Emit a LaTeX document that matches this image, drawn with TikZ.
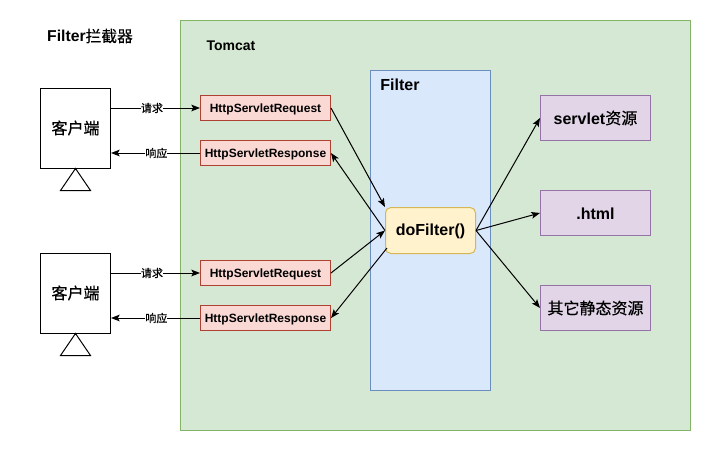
\documentclass[tikz,border=0pt]{standalone}
\usepackage{fontspec}
\usepackage{tikz}
\usetikzlibrary{arrows.meta}
\setmainfont{Liberation Sans}
\newfontfamily\cjk[FakeBold=0.4]{Noto Sans CJK SC}

\definecolor{tomcatfill}{HTML}{D5E8D4}
\definecolor{tomcatline}{HTML}{82B366}
\definecolor{filterfill}{HTML}{DAE8FC}
\definecolor{filterline}{HTML}{6C8EBF}
\definecolor{callfill}{HTML}{FFF2CC}
\definecolor{callline}{HTML}{D6B656}
\definecolor{reqfill}{HTML}{FAD9D5}
\definecolor{reqline}{HTML}{AE4132}
\definecolor{resfill}{HTML}{E1D5E7}
\definecolor{resline}{HTML}{9673A6}

\tikzset{
	x=0.75pt, y=-0.75pt, >={Stealth[length=6.5pt,width=5pt,inset=1.4pt]},
	every node/.style={inner sep=0pt, line width=0.75pt, align=center},
	every path/.style={line width=0.75pt},
	client/.style={shape=rectangle,draw=black,fill=white,minimum width=52.5pt,minimum height=60pt,font=\fontsize{12pt}{14pt}\selectfont},
	req/.style={shape=rectangle,draw=reqline,fill=reqfill,minimum width=97.5pt,minimum height=18.75pt,text height=8pt,text depth=1.9pt,font=\fontsize{9pt}{11pt}\selectfont\bfseries},
	res/.style={shape=rectangle,draw=resline,fill=resfill,minimum width=82.5pt,minimum height=33.75pt,font=\fontsize{12pt}{14pt}\selectfont\bfseries},
	tag/.style={fill=white,font=\fontsize{8.25pt}{10pt}\selectfont},
	title/.style={font=\fontsize{10.5pt}{12pt}\selectfont\bfseries},
}

\begin{document}
\begin{tikzpicture}
	\useasboundingbox (0,0) rectangle (711,451);

	\node[shape=rectangle,draw=tomcatline,fill=tomcatfill,minimum width=382.5pt,minimum height=307.5pt] (tomcat) at (435.5,225.5) {};
	\node[shape=rectangle,draw=filterline,fill=filterfill,minimum width=90pt,minimum height=240pt] (filter) at (430.5,230.5) {};

	\node[title,font=\fontsize{11.8pt}{14pt}\selectfont\bfseries] (heading) at (90,36) {Filter{\cjk\mdseries 拦截器}};
	\node[title] (tomcatname) at (231,46) {Tomcat};
	\node[title,font=\fontsize{12pt}{14pt}\selectfont\bfseries] (filtername) at (400,85) {Filter};

	\node[client] (client1) at (75.5,128) {\cjk 客户端};
	\node[client] (client2) at (75.5,293) {\cjk 客户端};
	\draw (client1.south) -- ++(-15,22) -- ++(30,0) -- cycle;
	\draw (client2.south) -- ++(-15,22) -- ++(30,0) -- cycle;

	\node[req] (req1) at (265.5,108) {HttpServletRequest};
	\node[req] (resp1) at (265.5,153) {HttpServletResponse};
	\node[req] (req2) at (265.5,273) {HttpServletRequest};
	\node[req] (resp2) at (265.5,318) {HttpServletResponse};

	\node[shape=rectangle,rounded corners=4pt,draw=callline,fill=callfill,minimum width=67.5pt,minimum height=34.5pt,text height=10.2pt,text depth=2.5pt,font=\fontsize{12pt}{14pt}\selectfont\bfseries] (dofilter) at (430.5,230.5) {doFilter()};
	\coordinate (dofilterout) at (387,248);

	\node[res] (servlet) at (595.5,118) {servlet{\cjk\mdseries 资源}};
	\node[res,text height=10.1pt,text depth=0pt] (html) at (595.5,213) {.html};
	\node[res] (static) at (595.5,308) {\cjk\mdseries 其它静态资源};

	\path[->] (client1.east |- req1) edge node[tag,pos=0.46]{\cjk 请求} (req1.west);
	\path[->] (resp1.west) edge node[tag,pos=0.49]{\cjk 响应} (client1.east |- resp1);
	\path[->] (client2.east |- req2) edge node[tag,pos=0.46]{\cjk 请求} (req2.west);
	\path[->] (resp2.west) edge node[tag,pos=0.49]{\cjk 响应} (client2.east |- resp2);

	\path[->] (req1.east) edge (dofilter.north west);
	\path[->] (dofilter.west) edge (resp1.east);
	\path[->] (req2.east) edge (dofilter.west);
	\path[->] (dofilterout) edge (resp2.east);

	\path[->] (dofilter.east) edge (servlet.west);
	\path[->] (dofilter.east) edge (html.west);
	\path[->] (dofilter.east) edge (static.west);

\end{tikzpicture}
\end{document}
